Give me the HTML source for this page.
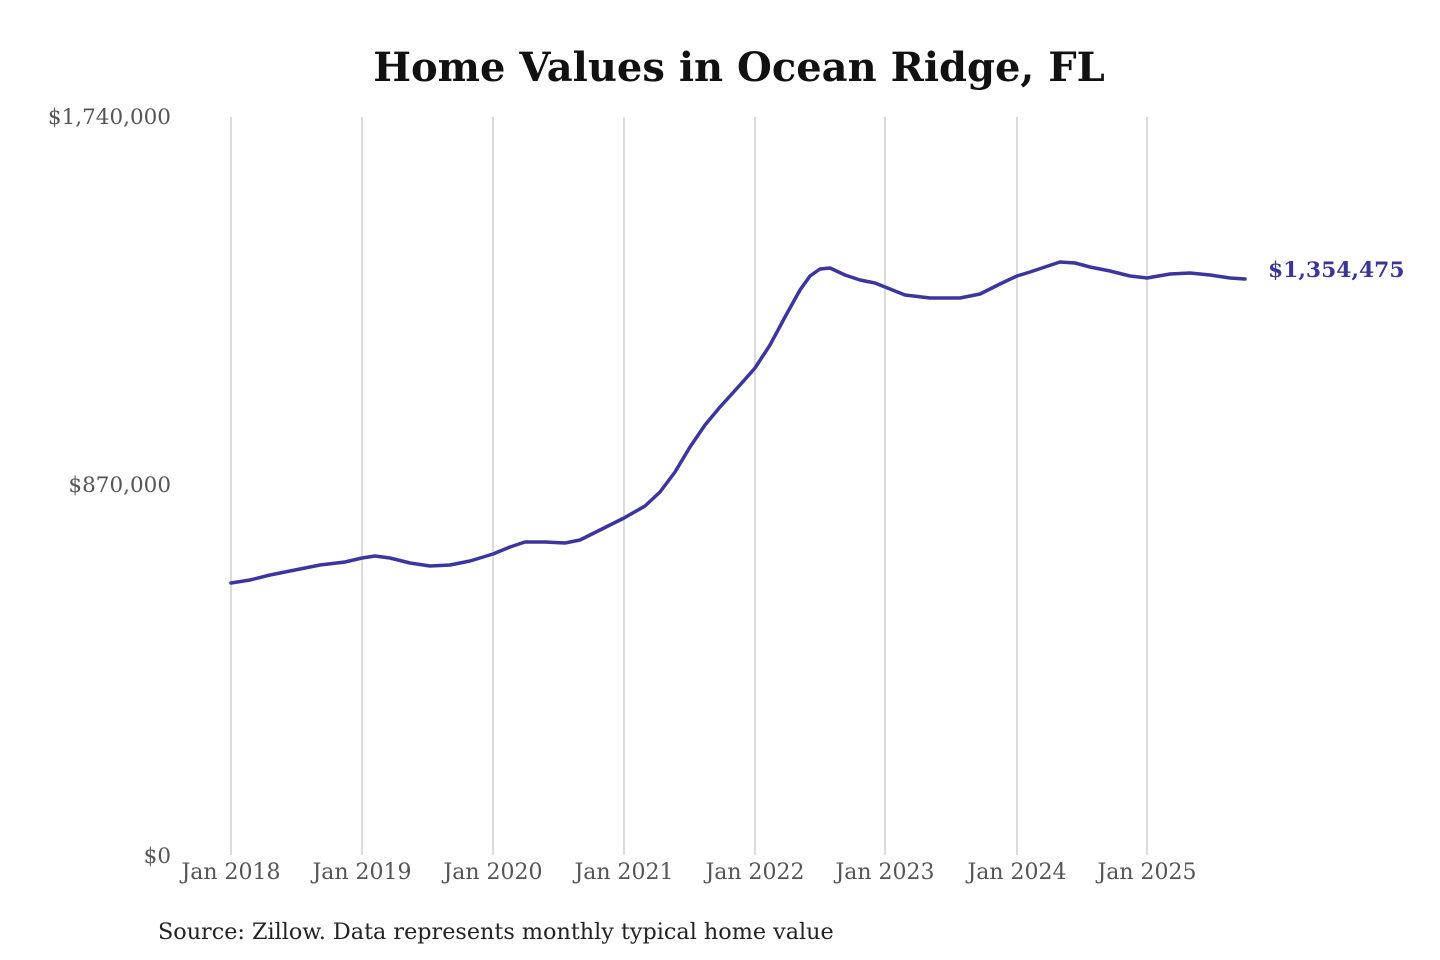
<!DOCTYPE html>
<html><head><meta charset="utf-8"><style>
html,body{margin:0;padding:0;background:#fff;}
svg{display:block;}
</style></head><body>
<svg width="1440" height="960" viewBox="0 0 1440 960" xmlns="http://www.w3.org/2000/svg" font-family="'DejaVu Serif','Liberation Serif',serif">
<rect width="1440" height="960" fill="#fff"/>
<text x="739" y="81" text-anchor="middle" font-size="40" font-weight="bold" fill="#111">Home Values in Ocean Ridge, FL</text>
<g stroke="#c8c8c8" stroke-width="1.3">
<line x1="231" y1="117" x2="231" y2="855"/>
<line x1="362" y1="117" x2="362" y2="855"/>
<line x1="493" y1="117" x2="493" y2="855"/>
<line x1="624" y1="117" x2="624" y2="855"/>
<line x1="755" y1="117" x2="755" y2="855"/>
<line x1="885" y1="117" x2="885" y2="855"/>
<line x1="1017" y1="117" x2="1017" y2="855"/>
<line x1="1147" y1="117" x2="1147" y2="855"/>
</g>
<g font-size="21.5" fill="#555">
<text x="171" y="124" text-anchor="end">$1,740,000</text>
<text x="171" y="492" text-anchor="end">$870,000</text>
<text x="171" y="863" text-anchor="end">$0</text>
</g>
<g font-size="22" fill="#555" text-anchor="middle">
<text x="231" y="879">Jan 2018</text>
<text x="362" y="879">Jan 2019</text>
<text x="493" y="879">Jan 2020</text>
<text x="624" y="879">Jan 2021</text>
<text x="755" y="879">Jan 2022</text>
<text x="885" y="879">Jan 2023</text>
<text x="1017" y="879">Jan 2024</text>
<text x="1147" y="879">Jan 2025</text>
</g>
<polyline fill="none" stroke="#3b35a0" stroke-width="3.5" stroke-linejoin="round" stroke-linecap="round" points="231,583 250,580 270,575 295,570 320,565 345,562 362,558 375,556 390,558 410,563 430,566 450,565 470,561 493,554 510,547 525,542 545,542 565,543 580,540 600,530 624,518 645,506 660,492 675,472 690,447 705,425 720,407 740,385 755,368 770,345 785,317 800,290 810,276 820,269 830,268 845,275 860,280 875,283 885,287 905,295 930,298 960,298 980,294 1000,284 1017,276 1030,272 1045,267 1060,262 1075,263 1090,267 1110,271 1130,276 1147,278 1170,274 1190,273 1210,275 1230,278 1245,279"/>
<text x="1268" y="277" font-size="21.8" font-weight="bold" fill="#3a3596">$1,354,475</text>
<text x="158" y="939" font-size="22.3" fill="#222">Source: Zillow. Data represents monthly typical home value</text>
</svg>
</body></html>
